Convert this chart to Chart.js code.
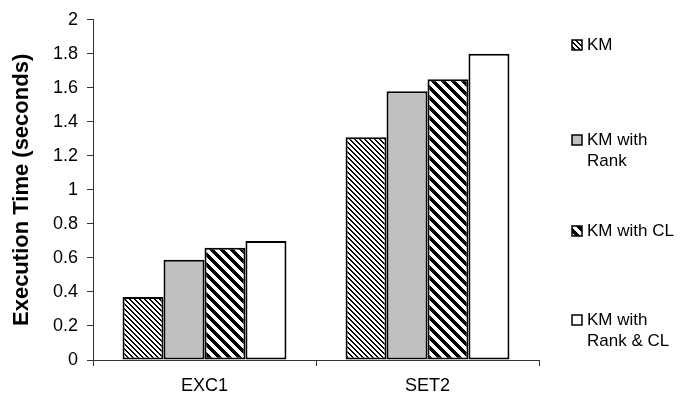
<!DOCTYPE html>
<html>
<head>
<meta charset="utf-8">
<script src="https://cdn.jsdelivr.net/npm/chart.js@4/dist/chart.umd.min.js"></script>
<style>
  html, body { margin: 0; padding: 0; background: #fff; }
  #wrap { width: 683px; height: 401px; position: relative; }
</style>
</head>
<body>
<div id="wrap"><canvas id="c"></canvas></div>
<script>
// Execution time per data set for each clustering variant
const categories = ['EXC1', 'SET2'];
const seriesNames = [['KM'], ['KM with', 'Rank'], ['KM with CL'], ['KM with', 'Rank & CL']];
const kmTimes = [0.37, 1.31];
const kmRankTimes = [0.59, 1.58];
const kmClTimes = [0.66, 1.65];
const kmRankClTimes = [0.70, 1.80];
const yTickMax = 2;
const yTickStep = 0.2;

const FONT = '"Liberation Sans", Arial, sans-serif';

// Pixel tile patterns for the hatched fills
function makePattern(size, isInk) {
  const t = document.createElement('canvas');
  t.width = t.height = size;
  const g = t.getContext('2d');
  g.fillStyle = '#fff';
  g.fillRect(0, 0, size, size);
  g.fillStyle = '#000';
  for (let y = 0; y < size; y++)
    for (let x = 0; x < size; x++)
      if (isInk(x, y)) g.fillRect(x, y, 1, 1);
  return g.createPattern(t, 'repeat');
}
const mod = (a, n) => ((a % n) + n) % n;
const fineHatch = makePattern(5, (x, y) => mod(x - y, 5) < 2);
const wideHatch = makePattern(10, (x, y) => mod(x - y, 10) < 5);

const fills = [fineHatch, '#c0c0c0', wideHatch, '#ffffff'];
const seriesData = [kmTimes, kmRankTimes, kmClTimes, kmRankClTimes];

// Legend drawn at the right, with two-line entries
const sideLegend = {
  id: 'sideLegend',
  afterDraw(chart) {
    const ctx = chart.ctx;
    const rows = [45, 140, 231, 320];
    ctx.save();
    ctx.font = '17px ' + FONT;
    ctx.textBaseline = 'middle';
    chart.data.datasets.forEach((ds, i) => {
      const y = rows[i];
      ctx.fillStyle = ds.backgroundColor;
      ctx.fillRect(572, y - 5, 10, 10);
      ctx.strokeStyle = '#000';
      ctx.lineWidth = 1.5;
      ctx.strokeRect(572, y - 5, 10, 10);
      ctx.fillStyle = '#000';
      ds.legendLines.forEach((line, k) => ctx.fillText(line, 587, y + k * 21));
    });
    ctx.restore();
  }
};

new Chart(document.getElementById('c'), {
  type: 'bar',
  data: {
    labels: categories,
    datasets: seriesData.map((vals, i) => ({
      label: seriesNames[i].join(' '),
      legendLines: seriesNames[i],
      data: vals,
      backgroundColor: fills[i],
      borderColor: '#000',
      borderWidth: 2,
      borderSkipped: false,
      barPercentage: 1,
      categoryPercentage: 0.735
    }))
  },
  options: {
    responsive: true,
    maintainAspectRatio: false,
    animation: false,
    layout: { padding: { top: 19, right: 144, bottom: 0, left: 0 } },
    plugins: {
      legend: { display: false },
      tooltip: { enabled: false }
    },
    scales: {
      x: {
        grid: {
          display: true,
          offset: true,
          drawOnChartArea: false,
          drawTicks: true,
          tickLength: 6,
          color: '#333'
        },
        border: { display: true, color: '#333', width: 1 },
        ticks: {
          color: '#000',
          font: { family: FONT, size: 18 },
          padding: 9
        },
        afterFit(s) { s.height = 41; }
      },
      y: {
        min: 0,
        max: yTickMax,
        grid: {
          display: true,
          drawOnChartArea: false,
          drawTicks: true,
          tickLength: 6,
          color: '#333'
        },
        border: { display: true, color: '#333', width: 1 },
        ticks: {
          stepSize: yTickStep,
          color: '#000',
          font: { family: FONT, size: 18 },
          padding: 9,
          callback: v => String(+v.toFixed(1))
        },
        title: {
          display: true,
          text: 'Execution Time (seconds)',
          color: '#000',
          font: { family: FONT, size: 22, weight: 'bold' },
          padding: { top: 9, bottom: 0 }
        },
        afterFit(s) { s.width = 93; }
      }
    }
  },
  plugins: [sideLegend]
});
</script>
</body>
</html>
